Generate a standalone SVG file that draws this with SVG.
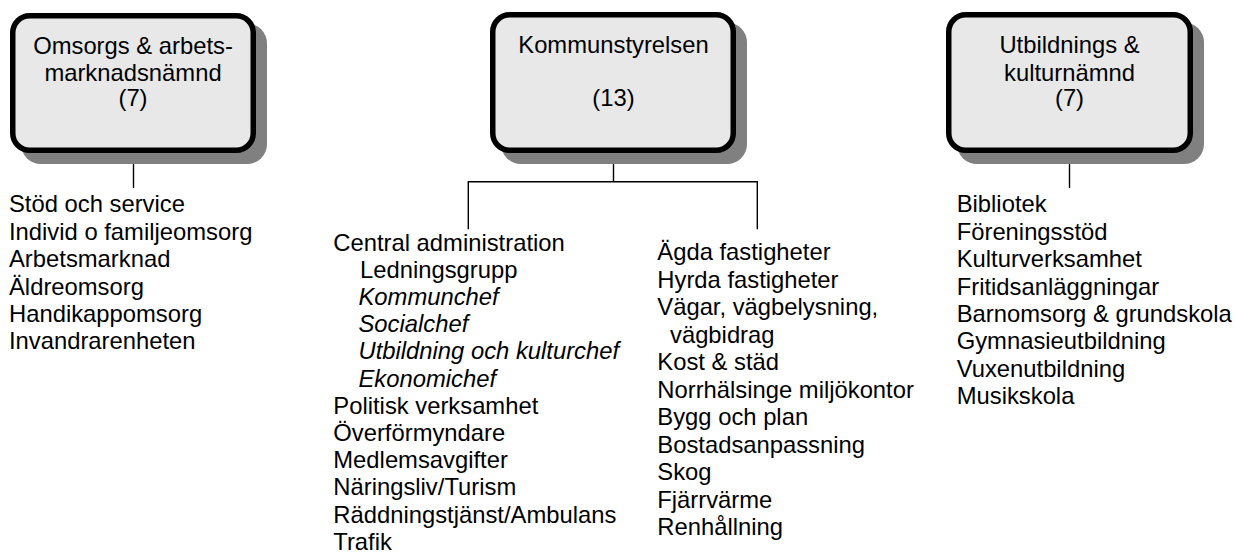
<svg xmlns="http://www.w3.org/2000/svg" width="1235" height="556" viewBox="0 0 1235 556">
<style>
text{font-family:"Liberation Sans",Arial,sans-serif;font-size:23.8px;fill:#000}
.c{text-anchor:middle}
.i{font-style:italic}
.box{fill:#e8e8e8;stroke:#000;stroke-width:5.5}
.sh{fill:#808080}
.ln{stroke:#000;stroke-width:1.4;fill:none}
</style>
<rect width="1235" height="556" fill="#fff"/>
<g id="connectors">
<line class="ln" x1="133.5" y1="150" x2="133.5" y2="188"/>
<polyline class="ln" points="613.5,150 613.5,181.7"/>
<polyline class="ln" points="468.3,229.3 468.3,181.7 757.3,181.7 757.3,229.3"/>
<line class="ln" x1="1069.5" y1="150" x2="1069.5" y2="188"/>
</g>
<g id="node-omsorg">
<rect class="sh" x="21" y="23.5" width="246" height="140.5" rx="20"/>
<rect class="box" x="12.75" y="15.75" width="240.5" height="134.5" rx="17"/>
<text class="c" x="133" y="53.5">Omsorgs &amp; arbets-</text>
<text class="c" x="133" y="81">marknadsnämnd</text>
<text class="c" x="133" y="106">(7)</text>
</g>
<g id="node-kommunstyrelsen">
<rect class="sh" x="501" y="22.5" width="246" height="141.5" rx="20"/>
<rect class="box" x="492.75" y="14.75" width="240.5" height="135.5" rx="17"/>
<text class="c" x="613.5" y="52.7">Kommunstyrelsen</text>
<text class="c" x="613.5" y="106">(13)</text>
</g>
<g id="node-utbildning">
<rect class="sh" x="957" y="22.5" width="247" height="141.5" rx="20"/>
<rect class="box" x="948.75" y="14.75" width="241.5" height="135.5" rx="17"/>
<text class="c" x="1069.5" y="53.3">Utbildnings &amp;</text>
<text class="c" x="1069.5" y="81">kulturnämnd</text>
<text class="c" x="1069.5" y="106">(7)</text>
</g>
<g id="list-omsorg">
<text x="9" y="212.3">Stöd och service</text>
<text x="9" y="239.7">Individ o familjeomsorg</text>
<text x="9" y="267.1">Arbetsmarknad</text>
<text x="9" y="294.5">Äldreomsorg</text>
<text x="9" y="321.9">Handikappomsorg</text>
<text x="9" y="349.3">Invandrarenheten</text>
</g>
<g id="list-central">
<text x="333.3" y="250.5">Central administration</text>
<text x="360" y="277.7">Ledningsgrupp</text>
<text class="i" x="358.5" y="304.9">Kommunchef</text>
<text class="i" x="358.5" y="332.1">Socialchef</text>
<text class="i" x="358.5" y="359.3">Utbildning och kulturchef</text>
<text class="i" x="358.5" y="386.5">Ekonomichef</text>
<text x="333.3" y="413.7">Politisk verksamhet</text>
<text x="333.3" y="440.9">Överförmyndare</text>
<text x="333.3" y="468.1">Medlemsavgifter</text>
<text x="333.3" y="495.3">Näringsliv/Turism</text>
<text x="333.3" y="522.5">Räddningstjänst/Ambulans</text>
<text x="333.3" y="549.7">Trafik</text>
</g>
<g id="list-fastigheter">
<text x="657.3" y="260">Ägda fastigheter</text>
<text x="657.3" y="287.5">Hyrda fastigheter</text>
<text x="657.3" y="315">Vägar, vägbelysning,</text>
<text x="670" y="342.5">vägbidrag</text>
<text x="657.3" y="370">Kost &amp; städ</text>
<text x="657.3" y="397.5">Norrhälsinge miljökontor</text>
<text x="657.3" y="425">Bygg och plan</text>
<text x="657.3" y="452.5">Bostadsanpassning</text>
<text x="657.3" y="480">Skog</text>
<text x="657.3" y="507.5">Fjärrvärme</text>
<text x="657.3" y="535">Renhållning</text>
</g>
<g id="list-utbildning">
<text x="956.7" y="212.3">Bibliotek</text>
<text x="956.7" y="239.7">Föreningsstöd</text>
<text x="956.7" y="267.1">Kulturverksamhet</text>
<text x="956.7" y="294.5">Fritidsanläggningar</text>
<text x="956.7" y="321.9">Barnomsorg &amp; grundskola</text>
<text x="956.7" y="349.3">Gymnasieutbildning</text>
<text x="956.7" y="376.7">Vuxenutbildning</text>
<text x="956.7" y="404.1">Musikskola</text>
</g>
</svg>
